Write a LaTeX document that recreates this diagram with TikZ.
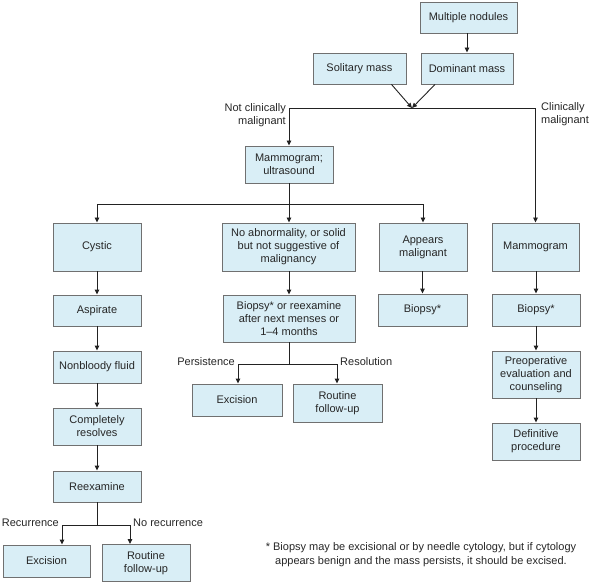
\documentclass[tikz,border=0pt]{standalone}
\usepackage{fontspec}
\setmainfont{Liberation Sans}
\usetikzlibrary{arrows.meta,calc}
\definecolor{boxfill}{HTML}{D9EEF6}
\definecolor{boxline}{HTML}{707070}
\definecolor{lineclr}{HTML}{222222}
\begin{document}
\begin{tikzpicture}[x=1pt,y=-1pt,
  box/.style={draw=boxline,fill=boxfill,line width=0.9pt,align=center,inner sep=1pt,
    font=\fontsize{11}{13}\selectfont,text=black!85},
  lbl/.style={inner sep=0pt,font=\fontsize{11}{13.5}\selectfont,text=black!85},
  conn/.style={draw=lineclr,line width=0.9pt},
  arr/.style={conn,-{Triangle[length=5pt,width=4.5pt]}}]
\useasboundingbox (0,0) rectangle (595,583);
% boxes
\node[box,minimum width=97pt,minimum height=31pt] (mult) at (468.5,17.5) {Multiple nodules};
\node[box,minimum width=93pt,minimum height=31pt] (sol) at (359.5,68.5) {Solitary mass};
\node[box,minimum width=92pt,minimum height=31pt] (dom) at (467,68.5) {Dominant mass};
\node[box,minimum width=88pt,minimum height=37pt] (mamus) at (289,164.5) {Mammogram;\\ultrasound};
\node[box,minimum width=88pt,minimum height=48pt] (cystic) at (97,247) {Cystic};
\node[box,minimum width=133pt,minimum height=48pt] (noab) at (288.5,247) {No abnormality, or solid\\but not suggestive of\\malignancy};
\node[box,minimum width=88pt,minimum height=48pt] (appm) at (423,247) {Appears\\malignant};
\node[box,minimum width=87pt,minimum height=48pt] (mam) at (535.5,247) {Mammogram};
\node[box,minimum width=88pt,minimum height=31pt] (asp) at (97,310.5) {Aspirate};
\node[box,minimum width=88pt,minimum height=32pt] (nonb) at (97,367) {Nonbloody fluid};
\node[box,minimum width=88pt,minimum height=37pt] (compl) at (97,426.5) {Completely\\resolves};
\node[box,minimum width=88pt,minimum height=31pt] (reex) at (97,486.5) {Reexamine};
\node[box,minimum width=87pt,minimum height=32pt] (exca) at (46.5,561) {Excision};
\node[box,minimum width=88pt,minimum height=37pt] (rfua) at (146,563) {Routine\\follow-up};
\node[box,minimum width=132pt,minimum height=47pt] (bior) at (289,318.5) {Biopsy* or reexamine\\after next menses or\\1--4 months};
\node[box,minimum width=90pt,minimum height=32pt] (excb) at (237,400) {Excision};
\node[box,minimum width=89pt,minimum height=38pt] (rfub) at (337.5,403) {Routine\\follow-up};
\node[box,minimum width=89pt,minimum height=32pt] (bioa) at (422.5,310) {Biopsy*};
\node[box,minimum width=88pt,minimum height=32pt] (biob) at (536,310) {Biopsy*};
\node[box,minimum width=88pt,minimum height=47pt] (preop) at (536,374.5) {Preoperative\\evaluation and\\counseling};
\node[box,minimum width=88pt,minimum height=37pt] (defp) at (536,441.5) {Definitive\\procedure};
% junctions
\coordinate (merge) at (412,108);
\coordinate (j2) at (289,204);
\coordinate (j3) at (97,525);
\coordinate (j4) at (289,364);
% connectors
\draw[arr] (mult.south -| dom) -- (dom.north);
\draw[arr] ([xshift=32pt]sol.south) -- (merge);
\draw[arr] ([xshift=-32pt]dom.south) -- (merge);
\draw[arr] (merge) -| (mamus.north);
\draw[arr] (merge) -| (mam.north);
\draw[conn] (mamus.south) -- (j2);
\draw[arr] (j2) -| (cystic.north);
\draw[arr] (j2) -- (noab.north -| j2);
\draw[arr] (j2) -| (appm.north);
\draw[arr] (cystic) -- (asp);
\draw[arr] (asp) -- (nonb);
\draw[arr] (nonb) -- (compl);
\draw[arr] (compl) -- (reex);
\draw[conn] (reex.south) -- (j3);
\draw[arr] (j3) -| ([xshift=15.5pt]exca.north);
\draw[arr] (j3) -| ([xshift=-16pt]rfua.north);
\draw[arr] (noab.south -| bior) -- (bior.north);
\draw[conn] (bior.south) -- (j4);
\draw[arr] (j4) -| ([xshift=1pt]excb.north);
\draw[arr] (j4) -| ([xshift=-0.5pt]rfub.north);
\draw[arr] (appm.south -| bioa) -- (bioa.north);
\draw[arr] (mam.south -| biob) -- (biob.north);
\draw[arr] (biob) -- (preop);
\draw[arr] (preop) -- (defp);
% labels
\node[lbl,align=right,anchor=north east] (lncm) at (286,103) {Not clinically\\malignant};
\node[lbl,align=left,anchor=north west] (lcm) at (541,102) {Clinically\\malignant};
\node[lbl,anchor=east] (lpers) at (235,362) {Persistence};
\node[lbl,anchor=west] (lres) at (340,362) {Resolution};
\node[lbl,anchor=east] (lrec) at (59,523) {Recurrence};
\node[lbl,anchor=west] (lnrec) at (133,523) {No recurrence};
\node[lbl,align=center,font=\fontsize{11}{14}\selectfont] (foot) at (421,555) {* Biopsy may be excisional or by needle cytology, but if cytology\\appears benign and the mass persists, it should be excised.};
\end{tikzpicture}
\end{document}
